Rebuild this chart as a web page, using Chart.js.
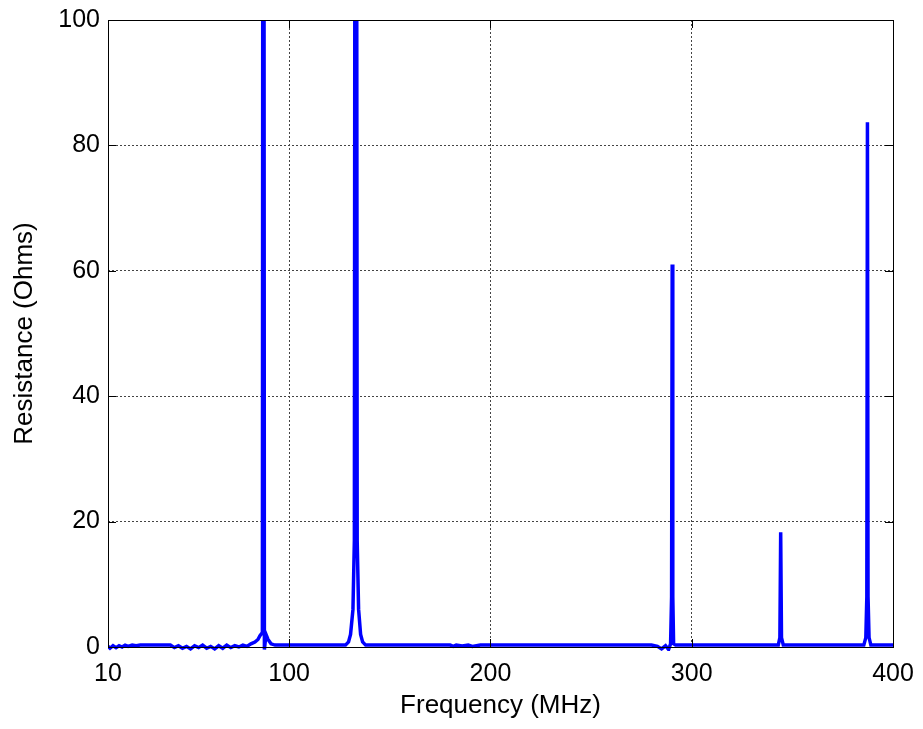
<!DOCTYPE html>
<html lang="en">
  <head>
    <meta charset="UTF-8" />
    <title>Resistance vs frequency</title>
    <style>
      html, body { margin: 0; padding: 0; background: #fff; }
    </style>
  </head>
  <body>
    <canvas id="chart" width="923" height="729"></canvas>
    <script src="https://cdn.jsdelivr.net/npm/chart.js"></script>
    <script>
      // frequency in MHz, resistance in ohms
      const freqMHz = [
        10, 11, 12.5, 14, 15.5, 17, 18.5, 20, 22, 24, 26, 28, 41, 43, 45, 47, 49,
        51, 53, 55, 57, 59, 61, 63, 65, 67, 69, 71, 73, 75, 77, 79, 81, 83,
        84.5, 85.5, 86.7, 87.2, 87.7, 88.5, 89.5, 91, 93,
        128, 129.5, 130.5, 131.7, 132.4, 133.1, 133.8, 134.5, 135.5, 136.5, 138,
        180, 181.5, 183, 186, 189, 191, 195,
        280, 283, 285, 287, 288.5, 289.5, 290.0, 290.3, 290.6, 291.0, 292,
        343, 343.8, 344.2, 344.6, 345.5,
        385.5, 386.5, 387.0, 387.3, 387.6, 388.1, 389, 400,
      ];
      const resistance = [
        0.1, -0.2, 0.2, -0.1, 0.2, 0.0, 0.3, 0.1, 0.3, 0.2, 0.3, 0.3, 0.3, -0.1, 0.2, -0.2, 0.1,
        -0.3, 0.2, -0.1, 0.3, -0.2, 0.1, -0.3, 0.2, -0.2, 0.3, -0.1, 0.2, 0.0, 0.3, 0.1, 0.5, 0.8,
        1.2, 1.8, 2.3, 300, -0.4, 2.0, 1.2, 0.5, 0.3,
        0.3, 0.8, 2, 6, 17, 300, 17, 6, 2, 0.8, 0.3,
        0.3, 0.1, 0.3, 0.15, 0.3, 0.1, 0.3,
        0.3, 0.1, -0.3, 0.2, -0.4, 0.5, 8, 61, 8, 0.5, 0.3,
        0.3, 1.5, 18.3, 1.5, 0.3,
        0.3, 1.5, 8, 83.7, 8, 1.5, 0.3, 0.3,
      ];
      const xTicks = [10, 100, 200, 300, 400];
      const yTicks = [0, 20, 40, 60, 80, 100];

      const FONT = "'Liberation Sans', Arial, sans-serif";

      // matlab style box with inward tick marks
      const boxPlugin = {
        id: "box",
        afterDraw(chart) {
          const { ctx, chartArea: a, scales } = chart;
          const len = 8;
          ctx.save();
          ctx.strokeStyle = "#000";
          ctx.lineWidth = 1;
          ctx.beginPath();
          for (const v of xTicks) {
            const px = Math.round(scales.x.getPixelForValue(v)) + 0.5;
            ctx.moveTo(px, a.bottom);
            ctx.lineTo(px, a.bottom - len);
            ctx.moveTo(px, a.top);
            ctx.lineTo(px, a.top + len);
          }
          for (const v of yTicks) {
            const py = Math.round(scales.y.getPixelForValue(v)) + 0.5;
            ctx.moveTo(a.left, py);
            ctx.lineTo(a.left + len, py);
            ctx.moveTo(a.right, py);
            ctx.lineTo(a.right - len, py);
          }
          ctx.stroke();
          ctx.strokeRect(
            Math.round(a.left) + 0.5,
            Math.round(a.top) + 0.5,
            Math.round(a.right - a.left),
            Math.round(a.bottom - a.top)
          );
          ctx.restore();
        },
      };

      const gridColor = (c) =>
        c.tick && (c.index === 0 || c.index === c.scale.ticks.length - 1)
          ? "rgba(0,0,0,0)"
          : "#444";

      new Chart(document.getElementById("chart"), {
        type: "scatter",
        data: {
          datasets: [
            {
              data: freqMHz.map((f, i) => ({ x: f, y: resistance[i] })),
              showLine: true,
              borderColor: "#0000ff",
              borderWidth: 3.5,
              pointRadius: 0,
              tension: 0,
              clip: { left: 0, right: 0, top: 0, bottom: 4 },
            },
          ],
        },
        options: {
          responsive: false,
          animation: false,
          layout: { padding: { top: 20, right: 30, left: 0, bottom: 0 } },
          plugins: { legend: { display: false }, tooltip: { enabled: false } },
          scales: {
            x: {
              type: "linear",
              min: 10,
              max: 400,
              afterBuildTicks: (s) => {
                s.ticks = xTicks.map((v) => ({ value: v }));
              },
              afterFit: (s) => {
                s.height = 82;
                s.paddingLeft = 0;
                s.paddingRight = 0;
              },
              border: { display: false, dash: [2, 2] },
              grid: { color: gridColor, lineWidth: 1, drawTicks: false },
              ticks: { color: "#000", padding: 12, font: { family: FONT, size: 25 } },
              title: {
                display: true,
                text: "Frequency (MHz)",
                color: "#000",
                font: { family: FONT, size: 26 },
                padding: { top: 0, bottom: 8 },
              },
            },
            y: {
              min: 0,
              max: 100,
              afterBuildTicks: (s) => {
                s.ticks = yTicks.map((v) => ({ value: v }));
              },
              afterFit: (s) => {
                s.width = 108;
                s.paddingTop = 0;
                s.paddingBottom = 0;
              },
              border: { display: false, dash: [2, 2] },
              grid: { color: gridColor, lineWidth: 1, drawTicks: false },
              ticks: { color: "#000", padding: 8, font: { family: FONT, size: 25 } },
              title: {
                display: true,
                text: "Resistance (Ohms)",
                color: "#000",
                font: { family: FONT, size: 26 },
                padding: { top: 9, bottom: 0 },
              },
            },
          },
        },
        plugins: [boxPlugin],
      });
    </script>
  </body>
</html>
